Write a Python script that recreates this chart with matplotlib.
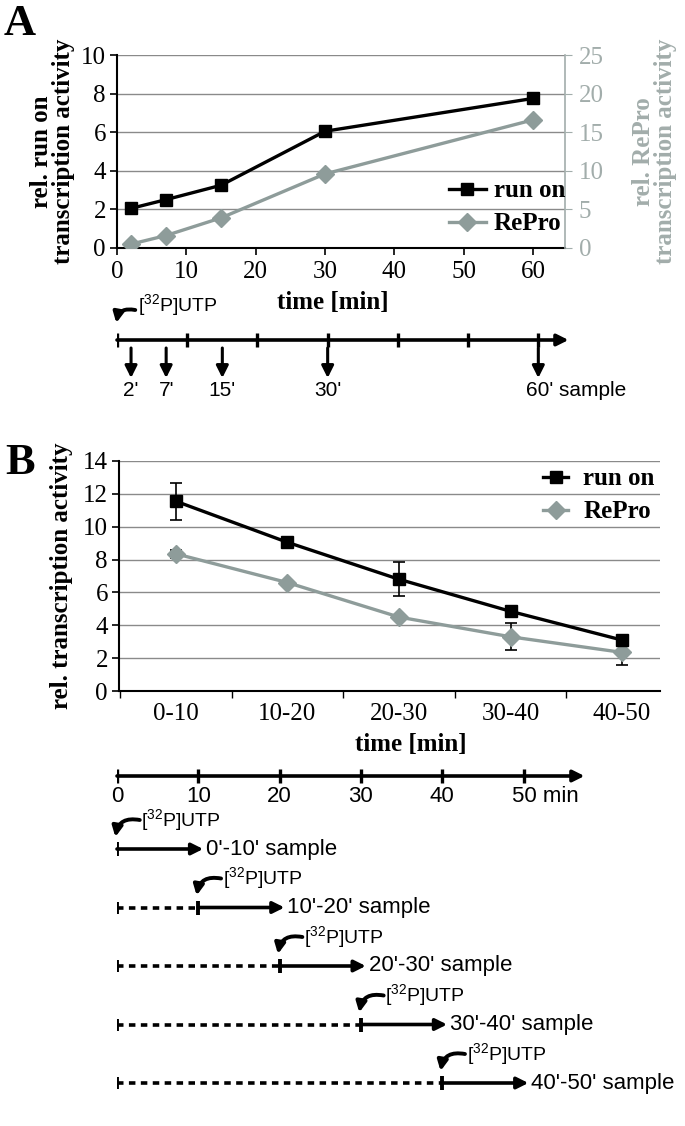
import numpy as np
import matplotlib
matplotlib.use('Agg')
import matplotlib.pyplot as plt
from matplotlib.lines import Line2D

# figure size in pixels
W, H = 685, 1126

# panel A: run on / RePro time course
time_a = [2, 7, 15, 30, 60]
runon_a = [2.05, 2.5, 3.25, 6.05, 7.75]
repro_a = [0.5, 1.6, 3.9, 9.6, 16.6]

# panel A: pulse scheme
timeline_a_ticks = [0, 10, 20, 30, 40, 50, 60]
samples_a = [2, 7, 15, 30, 60]
sample_labels_a = ["2'", "7'", "15'", "30'", "60' sample"]

# panel B: pulse labelling in 10 min windows
intervals_b = ['0-10', '10-20', '20-30', '30-40', '40-50']
runon_b = [11.55, 9.05, 6.8, 4.85, 3.1]
runon_b_err = [1.14, 0.0, 1.03, 0.0, 0.25]
repro_b = [8.35, 6.6, 4.5, 3.3, 2.35]
repro_b_err = [0.25, 0.0, 0.15, 0.83, 0.78]

# panel B: pulse scheme
timeline_b_ticks = [0, 10, 20, 30, 40, 50]
timeline_b_labels = ['0', '10', '20', '30', '40', '50 min']
pulse_starts = [0, 10, 20, 30, 40]
pulse_len = 10
pulse_labels = ["0'-10' sample", "10'-20' sample", "20'-30' sample",
                "30'-40' sample", "40'-50' sample"]

GREY = '#8e9c9a'
GREY_TXT = '#a2adab'
GRID = '#8a8a8a'
SERIF = ['Liberation Serif', 'DejaVu Serif']
SANS = ['Liberation Sans', 'DejaVu Sans']
UTP = r'[$\mathregular{^{32}}$P]UTP'
TICK_FS = 18
LAB_FS = 18

plt.rcParams['font.family'] = SERIF
plt.rcParams['mathtext.default'] = 'regular'


def px_rect(x0, y0, x1, y1):
    return [x0 / W, 1 - y1 / H, (x1 - x0) / W, (y1 - y0) / H]


def curved_arrow(axis, head, tail):
    axis.annotate('', xy=head, xytext=tail, annotation_clip=False,
                  arrowprops=dict(arrowstyle='-|>', lw=2.8, color='black',
                                  mutation_scale=15, shrinkA=0, shrinkB=0,
                                  connectionstyle='arc3,rad=0.5'))


fig = plt.figure(figsize=(W / 100, H / 100), dpi=100)

# ---------------- panel A chart ----------------
ax = fig.add_axes(px_rect(117, 55, 565, 248))
ax.plot(time_a, runon_a, color='black', lw=2.4, marker='s', ms=9,
        zorder=4)
ax.set_xlim(0, 64.6)
ax.set_ylim(0, 10)
ax.set_yticks(range(0, 11, 2))
ax.set_xticks(range(0, 61, 10))
ax.yaxis.grid(True, color=GRID, lw=1)
ax.set_axisbelow(True)
for s in ['top', 'right']:
    ax.spines[s].set_visible(False)
ax.spines['left'].set_linewidth(1.5)
ax.spines['bottom'].set_linewidth(1.5)
ax.tick_params(labelsize=TICK_FS, length=5, width=1.2, direction='out')
ax.tick_params(axis='x', pad=4)
ax.tick_params(axis='y', pad=3)
ax.set_ylabel('rel. run on\ntranscription activity', fontsize=LAB_FS,
              fontweight='bold', labelpad=4, linespacing=0.95)

ax2 = ax.twinx()
ax2.plot(time_a, repro_a, color=GREY, lw=2.4, marker='D', ms=9, zorder=3)
ax2.set_ylim(0, 25)
ax2.set_yticks(range(0, 26, 5))
for s in ['top', 'left', 'bottom']:
    ax2.spines[s].set_visible(False)
ax2.spines['right'].set_color(GREY_TXT)
ax2.spines['right'].set_linewidth(1.2)
ax2.tick_params(axis='y', labelsize=TICK_FS, length=5, colors=GREY_TXT, pad=5)
ax2.set_ylabel('rel. RePro\ntranscription activity', fontsize=LAB_FS,
               fontweight='bold', color=GREY_TXT, rotation=90, labelpad=20,
               linespacing=0.95)

handles_a = [Line2D([], [], color='black', lw=2.4, marker='s', ms=9),
             Line2D([], [], color=GREY, lw=2.4, marker='D', ms=9)]
ax2.legend(handles_a, ['run on', 'RePro'], loc='center right',
           bbox_to_anchor=(1.0, 0.21), frameon=False,
           prop={'weight': 'bold', 'size': LAB_FS},
           handlelength=1.5, handletextpad=0.3, labelspacing=0.4,
           borderaxespad=0, borderpad=0)

fig.text(20 / W, 1 - 24 / H, 'A', fontsize=32, fontweight='bold',
         ha='center', va='center')
fig.text(333 / W, 1 - 302 / H, 'time [min]', fontsize=LAB_FS,
         fontweight='bold', ha='center', va='center')

# ---------------- panel A scheme ----------------
ta = fig.add_axes(px_rect(117, 295, 565, 400))
ta.set_xlim(0, 63.8)
ta.set_ylim(400, 295)
ta.axis('off')
ta.annotate('', xy=(64.3, 340), xytext=(0, 340), annotation_clip=False,
            arrowprops=dict(arrowstyle='-|>', lw=2.6, color='black',
                            mutation_scale=17, shrinkA=0, shrinkB=0))
ta.vlines(timeline_a_ticks, 333, 347, color='black', lw=2.4)
for t, lab in zip(samples_a, sample_labels_a):
    ta.annotate('', xy=(t, 378), xytext=(t, 348),
                arrowprops=dict(arrowstyle='-|>', lw=2.2, color='black',
                                mutation_scale=18, shrinkA=0, shrinkB=0))
    if lab.endswith('sample'):
        ta.annotate(lab, xy=(t, 390), xytext=(-9, 0), textcoords='offset points',
                    ha='left', va='center', fontsize=15, family=SANS)
    else:
        ta.text(t, 390, lab, ha='center', va='center', fontsize=15, family=SANS)
curved_arrow(ta, (-0.1, 323), (2.6, 310))
ta.text(3.0, 305, UTP, ha='left', va='center', fontsize=14, family=SANS)

# ---------------- panel B chart ----------------
bx = fig.add_axes(px_rect(119, 461, 660, 691))
xb = np.arange(len(intervals_b))
bx.errorbar(xb, runon_b, yerr=runon_b_err, color='black', lw=2.4, marker='s',
            ms=9, ecolor='black', elinewidth=1.2, capsize=4, capthick=1.2,
            zorder=4)
bx.errorbar(xb, repro_b, yerr=repro_b_err, color=GREY, lw=2.4, marker='D',
            ms=9, ecolor='black', elinewidth=1.2, capsize=4, capthick=1.2,
            zorder=3)
bx.set_xlim(-0.51, 4.34)
bx.set_ylim(0, 14)
bx.set_yticks(range(0, 15, 2))
bx.set_xticks(xb)
bx.set_xticklabels(intervals_b)
bx.set_xticks(np.arange(-0.5, 4.5, 1.0), minor=True)
bx.tick_params(axis='x', which='major', length=0, pad=9)
bx.tick_params(axis='x', which='minor', length=5, width=1.0)
bx.tick_params(axis='y', length=5, width=1.2, pad=3)
bx.tick_params(labelsize=TICK_FS)
bx.yaxis.grid(True, color=GRID, lw=1)
bx.set_axisbelow(True)
for s in ['top', 'right']:
    bx.spines[s].set_visible(False)
bx.spines['left'].set_linewidth(1.5)
bx.spines['bottom'].set_linewidth(1.5)
bx.set_ylabel('rel. transcription activity', fontsize=LAB_FS,
              fontweight='bold', labelpad=7)
handles_b = [Line2D([], [], color='black', lw=2.4, marker='s', ms=9),
             Line2D([], [], color=GREY, lw=2.4, marker='D', ms=9)]
bx.legend(handles_b, ['run on', 'RePro'], loc='center right',
          bbox_to_anchor=(0.99, 0.85), frameon=False,
          prop={'weight': 'bold', 'size': LAB_FS},
          handlelength=1.0, handletextpad=0.6, labelspacing=0.4,
          borderaxespad=0, borderpad=0)

fig.text(20 / W, 1 - 463 / H, 'B', fontsize=32, fontweight='bold',
         ha='center', va='center')
fig.text(411 / W, 1 - 744 / H, 'time [min]', fontsize=LAB_FS,
         fontweight='bold', ha='center', va='center')

# ---------------- panel B scheme ----------------
tb = fig.add_axes(px_rect(117, 760, 685, 1110))
tb.set_xlim(0, (685 - 117) / 8.13)
tb.set_ylim(1110, 760)
tb.axis('off')
tb.annotate('', xy=(57.5, 776), xytext=(0, 776), annotation_clip=False,
            arrowprops=dict(arrowstyle='-|>', lw=2.6, color='black',
                            mutation_scale=17, shrinkA=0, shrinkB=0))
tb.vlines(timeline_b_ticks, 769, 783, color='black', lw=2.4)
for t, lab in zip(timeline_b_ticks, timeline_b_labels):
    if lab.endswith('min'):
        tb.annotate(lab, xy=(t, 797), xytext=(-8, 0), textcoords='offset points',
                    ha='left', va='center', fontsize=16, family=SANS)
    else:
        tb.text(t, 797, lab, ha='center', va='center', fontsize=16, family=SANS)

row_gap = 58.5
for k, (st, lab) in enumerate(zip(pulse_starts, pulse_labels)):
    y = 849 + k * row_gap
    if st > 0:
        tb.plot([0, st], [y, y], color='black', lw=2.6, ls=(0, (1.8, 1.5)),
                solid_capstyle='butt', dash_capstyle='butt')
        tb.vlines(0, y - 6, y + 6, color='black', lw=2.8)
    tb.vlines(st, y - 7, y + 7, color='black', lw=2.8)
    tb.annotate('', xy=(st + pulse_len + 0.6, y), xytext=(st, y),
                arrowprops=dict(arrowstyle='-|>', lw=2.6, color='black',
                                mutation_scale=17, shrinkA=0, shrinkB=0))
    tb.annotate(lab, xy=(st + pulse_len + 0.6, y), xytext=(2, 0),
                textcoords='offset points', ha='left', va='center',
                fontsize=16, family=SANS)
    curved_arrow(tb, (st - 0.2, y - 12), (st + 2.8, y - 29))
    tb.text(st + 3.0, y - 29, UTP, ha='left', va='center', fontsize=14,
            family=SANS)

fig.savefig('out.png', dpi=100)
